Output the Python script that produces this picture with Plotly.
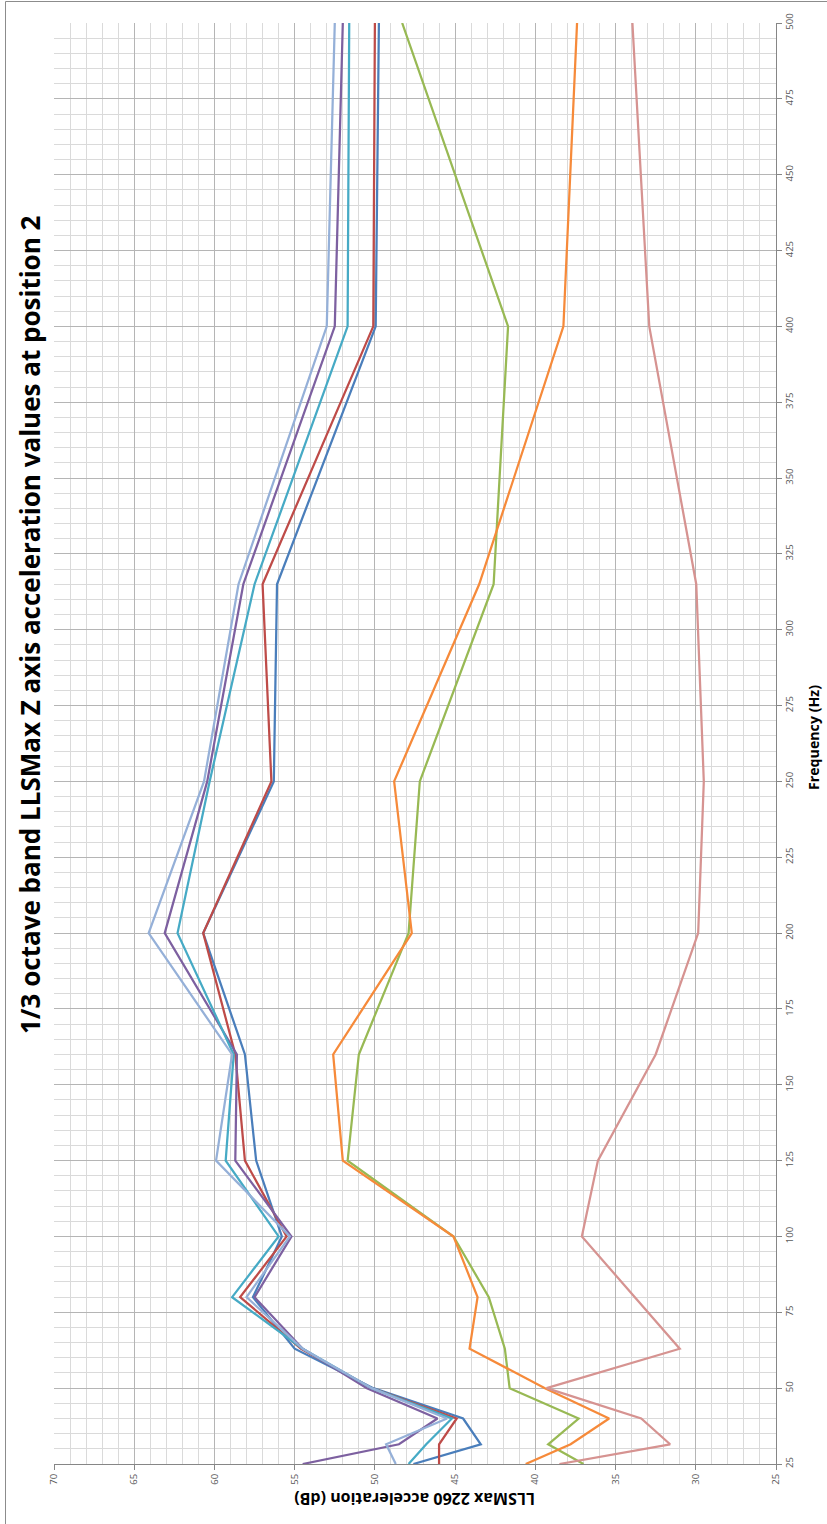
import plotly.graph_objects as go

# Frequency bands (Hz) - 1/3 octave
freq = [25, 31.5, 40, 50, 63, 80, 100, 125, 160, 200, 250, 315, 400, 500]

# Acceleration values (dB) per series
s1 = [47.6, 43.4, 44.5, 50.1, 55.0, 57.6, 55.8, 57.4, 58.1, 60.7, 56.3, 56.1, 49.95, 49.75]
s2 = [46.0, 46.0, 44.9, 50.2, 54.6, 58.4, 55.5, 58.1, 58.7, 60.7, 56.45, 57.0, 50.1, 50.0]
s3 = [37.0, 39.2, 37.3, 41.6, 41.9, 42.9, 45.1, 51.7, 51.0, 47.9, 47.2, 42.6, 41.7, 48.3]
s4 = [54.5, 48.5, 46.1, 50.5, 54.5, 57.5, 55.2, 58.7, 58.6, 63.1, 60.45, 58.2, 52.5, 52.0]
s5 = [47.9, 46.8, 45.2, 50.2, 54.5, 58.9, 56.0, 59.3, 58.8, 62.3, 60.3, 57.5, 51.7, 51.6]
s6 = [40.6, 37.8, 35.4, 39.4, 44.1, 43.6, 45.1, 52.0, 52.6, 47.7, 48.8, 43.5, 38.25, 37.4]
s7 = [48.7, 49.3, 45.5, 50.2, 54.5, 58.0, 55.3, 59.9, 58.9, 64.1, 60.65, 58.5, 53.0, 52.5]
s8 = [38.5, 31.6, 33.4, 39.3, 31.0, 33.8, 37.1, 36.1, 32.5, 29.85, 29.5, 29.97, 32.9, 33.95]

series_names = ["Series 1", "Series 2", "Series 3", "Series 4",
                "Series 5", "Series 6", "Series 7", "Series 8"]
series_values = [s1, s2, s3, s4, s5, s6, s7, s8]
series_colors = ["#4A7EBB", "#BE4B48", "#98B954", "#7D60A0",
                 "#46AAC5", "#F68A3A", "#95B0D8", "#D69391"]

db_ticks = [25, 30, 35, 40, 45, 50, 55, 60, 65, 70]
freq_ticks = [25, 50, 75, 100, 125, 150, 175, 200, 225, 250, 275, 300,
              325, 350, 375, 400, 425, 450, 475, 500]

title_text = "1/3 octave band LLSMax Z axis acceleration values at position 2"
x_title = "Frequency (Hz)"
y_title = "LLSMax 2260 acceleration (dB)"

fig = go.Figure()
for name, vals, col in zip(series_names, series_values, series_colors):
    fig.add_trace(go.Scatter(x=vals, y=freq, mode="lines", name=name,
                             line=dict(color=col, width=2.25),
                             showlegend=False))

W, H = 827, 1524
L, R, T, B = 54, 51, 23, 60
pw = W - L - R
ph = H - T - B


def px(xp):
    return (xp - L) / pw


def py(yp):
    return (H - B - yp) / ph


FONT = "Open Sans, Liberation Sans, sans-serif"
tickfont = dict(family=FONT, size=9.5, color="#595959")
major_grid = "#B5B5B5"
minor_grid = "#DADADA"

fig.update_layout(
    width=W, height=H,
    margin=dict(l=L, r=R, t=T, b=B),
    paper_bgcolor="white", plot_bgcolor="white",
    xaxis=dict(range=[70, 25], tickmode="array", tickvals=db_ticks,
               ticktext=[str(v) for v in db_ticks], tickangle=-90,
               showgrid=True, gridcolor=major_grid, gridwidth=1,
               minor=dict(dtick=1, tick0=25, showgrid=True, gridcolor=minor_grid, gridwidth=1),
               showline=True, linecolor="#868686", linewidth=1,
               ticks="outside", ticklen=5, tickcolor="#868686",
               tickfont=tickfont, zeroline=False, fixedrange=True),
    yaxis=dict(range=[25, 500], side="right", tickmode="array", tickvals=freq_ticks,
               ticktext=[str(v) for v in freq_ticks], tickangle=-90,
               showgrid=True, gridcolor=major_grid, gridwidth=1,
               minor=dict(dtick=5, tick0=25, showgrid=True, gridcolor=minor_grid, gridwidth=1),
               showline=True, linecolor="#868686", linewidth=1,
               ticks="outside", ticklen=5, tickcolor="#868686",
               tickfont=tickfont, zeroline=False, fixedrange=True),
    annotations=[
        dict(text="<b>" + title_text + "</b>", xref="paper", yref="paper",
             x=px(30), y=py(625), textangle=-90, showarrow=False,
             xanchor="center", yanchor="middle",
             font=dict(family=FONT, size=26, color="#000000")),
        dict(text="<b>" + x_title + "</b>", xref="paper", yref="paper",
             x=px(813), y=py(738), textangle=-90, showarrow=False,
             xanchor="center", yanchor="middle",
             font=dict(family=FONT, size=14.2, color="#000000")),
        dict(text="<b>" + y_title + "</b>", xref="paper", yref="paper",
             x=px(414.5), y=py(1499), textangle=180, showarrow=False,
             xanchor="center", yanchor="middle",
             font=dict(family=FONT, size=16, color="#000000")),
    ],
    shapes=[
        dict(type="line", xref="paper", yref="paper", x0=px(5.5), x1=px(5.5),
             y0=py(1.5), y1=py(1530), line=dict(color="#8C8C8C", width=1)),
        dict(type="line", xref="paper", yref="paper", x0=px(5.5), x1=px(835),
             y0=py(1.5), y1=py(1.5), line=dict(color="#8C8C8C", width=1)),
    ],
)

fig.write_html(
    "out.html",
    config={"displayModeBar": False},
    post_script="document.body.style.margin='0px';document.body.style.overflow='hidden';",
)
